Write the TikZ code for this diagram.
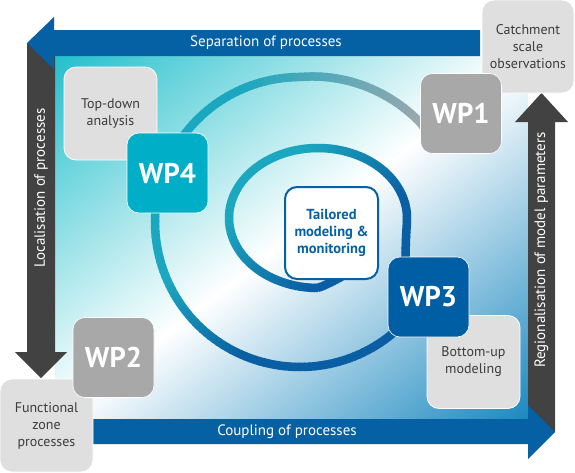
\documentclass[tikz,border=0pt]{standalone}
\usepackage{fontspec}
\setmainfont{PT Sans}
\definecolor{bgTeal}{HTML}{1ABDCA}
\definecolor{bgBlue}{HTML}{1283BD}
\definecolor{barBlue}{HTML}{0560A4}
\definecolor{barDark}{HTML}{424242}
\definecolor{lightBox}{HTML}{DFDFDF}
\definecolor{wpGray}{HTML}{A8A8A8}
\definecolor{wpTeal}{HTML}{00AEC7}
\definecolor{wpBlue}{HTML}{005EA4}
\definecolor{textGray}{HTML}{3C3C3C}
\definecolor{spTeal}{HTML}{1BA7BF}
\definecolor{spBlue}{HTML}{0A5EA3}
\definecolor{spGray}{HTML}{9DABB0}
\tikzset{
  lbox/.style={fill=lightBox, draw=white, line width=0.8, rounded corners=12, minimum width=93, minimum height=93, text=textGray, align=center, font=\fontsize{14}{17}\selectfont, inner sep=0},
  wpbox/.style={draw=white, line width=0.6, rounded corners=12, minimum width=81, minimum height=80, text=white, font=\bfseries\fontsize{28.5}{30}\selectfont, inner sep=0},
  tmbox/.style={fill=white, draw=barBlue, line width=2, rounded corners=12, minimum width=93, minimum height=92, text=barBlue, align=center, font=\bfseries\fontsize{14.5}{17}\selectfont, inner sep=0},
  axlabel/.style={text=white, font=\fontsize{15}{17}\selectfont, inner sep=0},
  spseg/.style={line width=8.5, line cap=butt},
}
\begin{document}
\begin{tikzpicture}[x=1pt, y=-1pt,
  declare function={
    spux(\q)=(min(max((\q-365)/45,0),1))^2;
    spuy(\q)=min(max((\q-350)/60,0),1);
    spg(\q)=min(max((\q-630)/50,0),1);
    spx(\q)=318-18*spux(\q)+(89+56*spux(\q)+11*spg(\q))*cos(\q);
    spy(\q)=218+4*spuy(\q)+(70-0.6*max(90-\q,0)+75*spuy(\q)+11*spg(\q))*sin(\q);
  }]
\useasboundingbox (0,0) rectangle (575,472);
% background gradient
\begin{scope}
  \clip (55,56) rectangle (528,419);
  \shade[top color=bgTeal, bottom color=bgBlue, middle color=white, shading angle=37.5] (-8.5,-62.5) rectangle (591.5,537.5);
\end{scope}
% spiral
\foreach \t in {74,76,...,686}{
  \pgfmathsetmacro{\xa}{spx(\t)}
  \pgfmathsetmacro{\ya}{spy(\t)}
  \pgfmathsetmacro{\xb}{spx(\t+2.4)}
  \pgfmathsetmacro{\yb}{spy(\t+2.4)}
  \pgfmathtruncatemacro{\mixf}{100*min(max((\xa+\ya-450)/150,0),1)}
  \pgfmathtruncatemacro{\mixg}{100*min(max((\t-605)/75,0),1)}
  \colorlet{segc}{spBlue!\mixf!spTeal}
  \colorlet{segd}{spGray!\mixg!segc}
  \draw[spseg, segd] (\xa,\ya) -- (\xb,\yb);
}
% boxes
\node[lbox] (td) at (110.5,113.5) {Top-down\\analysis};
\node[wpbox, fill=wpTeal] (wp4) at (167.5,173) {WP4};
\node[lbox] (bu) at (473.5,362) {Bottom-up\\modeling};
\node[wpbox, fill=wpBlue] (wp3) at (428.5,297) {WP3};
\node[tmbox] (tm) at (331.5,233) {Tailored\\modeling \&\\monitoring};
% big arrows
\fill[barDark] (27,43) -- (55,43) -- (55,352) -- (67,352) -- (41,378) -- (15,352) -- (27,352) -- cycle;
\fill[barDark] (528,432) -- (528,122) -- (515,122) -- (541.5,93) -- (568,122) -- (555,122) -- (555,432) -- cycle;
\fill[barBlue] (480,30) -- (54,30) -- (54,17) -- (27,43) -- (54,69) -- (54,56) -- (480,56) -- cycle;
\fill[barBlue] (60,419) -- (528,419) -- (528,405) -- (555,432) -- (528,459) -- (528,444) -- (60,444) -- cycle;
\node[axlabel] (sep) at (266,43) {Separation of processes};
\node[axlabel] (cpl) at (287,431.5) {Coupling of processes};
\node[axlabel, rotate=90] (loc) at (41,188) {Localisation of processes};
\node[axlabel, rotate=90] (reg) at (541.5,250) {Regionalisation of model parameters};
% corner boxes
\node[lbox, minimum width=92] (cs) at (528,46.5) {Catchment\\scale\\observations};
\node[wpbox, fill=wpGray] (wp1) at (461,113.5) {WP1};
\node[lbox] (fz) at (46.5,425.5) {Functional\\zone\\processes};
\node[wpbox, fill=wpGray] (wp2) at (113.5,357.5) {WP2};
\end{tikzpicture}
\end{document}
